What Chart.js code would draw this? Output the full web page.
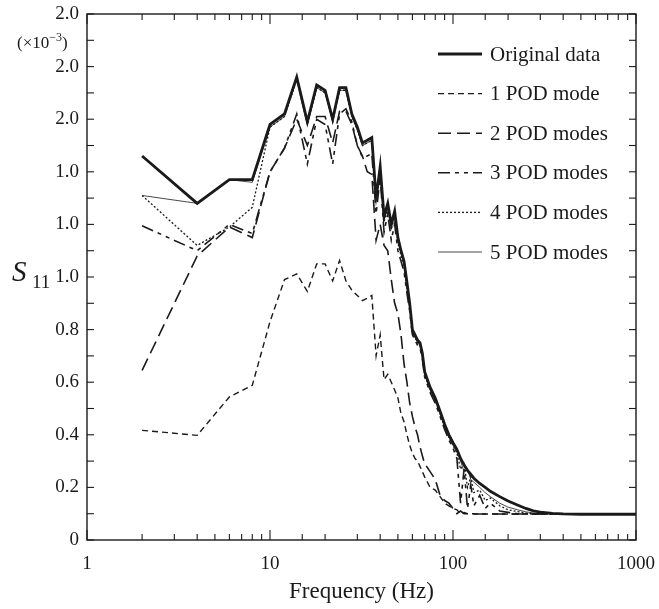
<!DOCTYPE html>
<html>
<head>
<meta charset="utf-8">
<script src="https://cdn.jsdelivr.net/npm/chart.js@4"></script>
<style>
  body { margin: 0; background: #fff; }
  #wrap { width: 659px; height: 609px; }
</style>
</head>
<body>
<div id="wrap"><canvas id="myChart" width="659" height="609"></canvas></div>
<script>
// frequencies (Hz), shared by every curve
const freq = [2, 4, 6, 8, 10, 12, 14, 16, 18, 20,
  22, 24, 26, 28, 30, 32, 34, 36, 38, 40,
  42, 44, 46, 48, 50, 52, 54, 56, 58, 60,
  62, 64, 66, 68, 70, 75, 80, 85, 90, 95,
  100, 105, 110, 115, 120, 125, 130, 140, 150, 160,
  180, 200, 225, 250, 275, 300, 350, 400, 500, 700,
  1000];

// S11 values (x10^-3)
const original = [1.46, 1.28, 1.37, 1.37, 1.58, 1.62, 1.76, 1.59, 1.73, 1.71,
  1.60, 1.72, 1.72, 1.62, 1.57, 1.51, 1.52, 1.53, 1.30, 1.42,
  1.23, 1.28, 1.20, 1.25, 1.15, 1.10, 1.06, 0.98, 0.90, 0.80,
  0.78, 0.76, 0.75, 0.71, 0.64, 0.58, 0.54, 0.49, 0.44, 0.40,
  0.37, 0.345, 0.31, 0.285, 0.265, 0.25, 0.235, 0.215, 0.20, 0.185,
  0.165, 0.148, 0.133, 0.12, 0.111, 0.106, 0.101, 0.099, 0.098, 0.098,
  0.098];
const pod1 = [0.417, 0.398, 0.544, 0.588, 0.83, 0.99, 1.012, 0.945, 1.05, 1.05,
  0.985, 1.063, 0.985, 0.95, 0.93, 0.91, 0.92, 0.93, 0.70, 0.78,
  0.61, 0.63, 0.60, 0.57, 0.54, 0.48, 0.45, 0.40, 0.36, 0.33,
  0.31, 0.30, 0.28, 0.26, 0.24, 0.20, 0.19, 0.165, 0.14, 0.13,
  0.12, 0.115, 0.10, 0.105, 0.10, 0.10, 0.10, 0.099, 0.099, 0.099,
  0.099, 0.099, 0.099, 0.099, 0.099, 0.099, 0.099, 0.099, 0.098, 0.098,
  0.098];
const pod2 = [0.645, 1.08, 1.19, 1.15, 1.40, 1.49, 1.60, 1.50, 1.61, 1.61,
  1.51, 1.63, 1.63, 1.58, 1.50, 1.46, 1.40, 1.39, 1.14, 1.20,
  1.12, 1.10, 0.99, 0.90, 0.86, 0.78, 0.67, 0.60, 0.52, 0.47,
  0.43, 0.40, 0.355, 0.32, 0.29, 0.26, 0.23, 0.17, 0.15, 0.14,
  0.12, 0.10, 0.11, 0.10, 0.10, 0.099, 0.099, 0.099, 0.099, 0.099,
  0.099, 0.099, 0.099, 0.099, 0.099, 0.099, 0.099, 0.099, 0.098, 0.098,
  0.098];
const pod3 = [1.195, 1.10, 1.20, 1.165, 1.40, 1.49, 1.62, 1.43, 1.60, 1.58,
  1.43, 1.62, 1.64, 1.59, 1.50, 1.455, 1.46, 1.47, 1.24, 1.38,
  1.17, 1.24, 1.14, 1.20, 1.10, 1.06, 1.02, 0.94, 0.87, 0.78,
  0.76, 0.74, 0.73, 0.69, 0.62, 0.56, 0.52, 0.47, 0.42, 0.38,
  0.35, 0.31, 0.14, 0.27, 0.12, 0.21, 0.13, 0.17, 0.12, 0.14,
  0.11, 0.105, 0.10, 0.10, 0.099, 0.099, 0.099, 0.099, 0.098, 0.098,
  0.098];
const pod4 = [1.31, 1.12, 1.19, 1.265, 1.57, 1.61, 1.75, 1.58, 1.72, 1.70,
  1.59, 1.71, 1.71, 1.61, 1.56, 1.50, 1.51, 1.52, 1.29, 1.40,
  1.21, 1.26, 1.18, 1.23, 1.13, 1.08, 1.04, 0.96, 0.88, 0.79,
  0.77, 0.75, 0.74, 0.70, 0.63, 0.57, 0.53, 0.48, 0.43, 0.39,
  0.36, 0.33, 0.27, 0.29, 0.20, 0.24, 0.18, 0.19, 0.15, 0.16,
  0.13, 0.115, 0.108, 0.103, 0.10, 0.10, 0.099, 0.099, 0.098, 0.098,
  0.098];
const pod5 = [1.31, 1.28, 1.37, 1.36, 1.57, 1.61, 1.75, 1.58, 1.72, 1.70,
  1.59, 1.71, 1.71, 1.61, 1.56, 1.50, 1.51, 1.52, 1.29, 1.41,
  1.22, 1.27, 1.19, 1.24, 1.14, 1.09, 1.05, 0.97, 0.89, 0.79,
  0.77, 0.75, 0.74, 0.70, 0.63, 0.57, 0.53, 0.48, 0.43, 0.39,
  0.36, 0.335, 0.30, 0.26, 0.27, 0.23, 0.22, 0.20, 0.18, 0.165,
  0.14, 0.125, 0.115, 0.107, 0.103, 0.10, 0.099, 0.099, 0.098, 0.098,
  0.098];

const seriesNames = ["Original data", "1 POD mode", "2 POD modes", "3 POD modes", "4 POD modes", "5 POD modes"];
// tick labels exactly as printed on the figure
const yTickLabels = ["0", "0.2", "0.4", "0.6", "0.8", "1.0", "1.0", "1.0", "2.0", "2.0", "2.0"];
const xTickLabels = { 1: "1", 10: "10", 100: "100", 1000: "1000" };

const serif = '"Liberation Serif", "DejaVu Serif", serif';
const ink = "#1a1a1a";

function pts(values) {
  return values.map((v, i) => ({ x: freq[i], y: v }));
}

const data = {
  datasets: [
    { label: seriesNames[0], data: pts(original), borderWidth: 2.8, borderDash: [] },
    { label: seriesNames[1], data: pts(pod1), borderWidth: 1.4, borderDash: [6, 4] },
    { label: seriesNames[2], data: pts(pod2), borderWidth: 1.6, borderDash: [13, 6] },
    { label: seriesNames[3], data: pts(pod3), borderWidth: 1.6, borderDash: [12, 5, 4, 5, 4, 5] },
    { label: seriesNames[4], data: pts(pod4), borderWidth: 1.3, borderDash: [2, 2] },
    { label: seriesNames[5], data: pts(pod5), borderWidth: 0.8, borderDash: [] },
  ].map((ds) => ({ ...ds, borderColor: ink, pointRadius: 0, tension: 0, fill: false })),
};

function isDecade(v) {
  const l = Math.log10(v);
  return Math.abs(l - Math.round(l)) < 1e-6;
}

// frame, inward ticks, legend and the extra labels
const decorations = {
  id: "decorations",
  afterDraw(chart) {
    const { ctx, chartArea: a, scales } = chart;
    const x = scales.x, y = scales.y;
    const seg = (x1, y1, x2, y2) => { ctx.beginPath(); ctx.moveTo(x1, y1); ctx.lineTo(x2, y2); ctx.stroke(); };
    ctx.save();
    ctx.strokeStyle = ink;
    ctx.lineWidth = 1.4;
    ctx.setLineDash([]);
    ctx.strokeRect(a.left, a.top, a.right - a.left, a.bottom - a.top);
    ctx.lineWidth = 1.1;
    y.ticks.forEach((t) => {
      const py = y.getPixelForValue(t.value);
      seg(a.left, py, a.left + 7, py);
      seg(a.right, py, a.right - 7, py);
    });
    x.ticks.forEach((t) => {
      const px = x.getPixelForValue(t.value);
      const len = isDecade(t.value) ? 10 : 6;
      seg(px, a.bottom, px, a.bottom - len);
      seg(px, a.top, px, a.top + len);
    });

    // legend
    chart.data.datasets.forEach((ds, i) => {
      const ry = 54 + i * 39.6;
      ctx.lineWidth = ds.borderWidth;
      ctx.setLineDash(ds.borderDash);
      seg(438, ry, 482, ry);
      ctx.setLineDash([]);
      ctx.fillStyle = ink;
      ctx.font = "21px " + serif;
      ctx.textAlign = "left";
      ctx.textBaseline = "middle";
      ctx.fillText(ds.label, 490, ry + 1);
    });

    // y-axis name S11 and the multiplier
    ctx.fillStyle = ink;
    ctx.textAlign = "left";
    ctx.textBaseline = "alphabetic";
    ctx.font = "italic 29px " + serif;
    ctx.fillText("S", 12, 281);
    ctx.font = "19px " + serif;
    ctx.fillText("11", 32, 288);

    let cx = 17;
    ctx.font = "17px " + serif;
    ctx.fillText("(\u00d710", cx, 48);
    cx += ctx.measureText("(\u00d710").width;
    ctx.font = "12px " + serif;
    ctx.fillText("\u22123", cx, 41);
    cx += ctx.measureText("\u22123").width;
    ctx.font = "17px " + serif;
    ctx.fillText(")", cx, 48);
    ctx.restore();
  },
};

const config = {
  type: "line",
  data: data,
  options: {
    responsive: false,
    animation: false,
    layout: { padding: { top: 14, right: 23, left: 0, bottom: 0 } },
    plugins: { legend: { display: false }, tooltip: { enabled: false } },
    scales: {
      x: {
        type: "logarithmic",
        min: 1,
        max: 1000,
        grid: { display: false, drawTicks: false },
        border: { display: false },
        ticks: {
          autoSkip: false,
          maxRotation: 0,
          padding: 13,
          color: ink,
          font: { family: serif, size: 19 },
          callback: (v) => (isDecade(v) ? xTickLabels[Math.round(v)] : ""),
        },
        title: {
          display: true,
          text: "Frequency (Hz)",
          color: ink,
          font: { family: serif, size: 23 },
          padding: { top: 0, bottom: 3 },
        },
        afterFit: (scale) => {
          scale.height = 69;
          scale.paddingLeft = 0;
          scale.paddingRight = 0;
        },
      },
      y: {
        type: "linear",
        min: 0,
        max: 2,
        grid: { display: false, drawTicks: false },
        border: { display: false },
        afterBuildTicks: (scale) => {
          const t = [];
          for (let i = 0; i <= 20; i++) t.push({ value: i / 10 });
          scale.ticks = t;
        },
        ticks: {
          padding: 8,
          color: ink,
          font: { family: serif, size: 19 },
          callback: (v, i) => (i % 2 === 0 ? yTickLabels[i / 2] : ""),
        },
        afterFit: (scale) => {
          scale.width = 87;
          scale.paddingTop = 0;
          scale.paddingBottom = 0;
        },
      },
    },
  },
  plugins: [decorations],
};

const myChart = new Chart(document.getElementById("myChart"), config);
</script>
</body>
</html>
